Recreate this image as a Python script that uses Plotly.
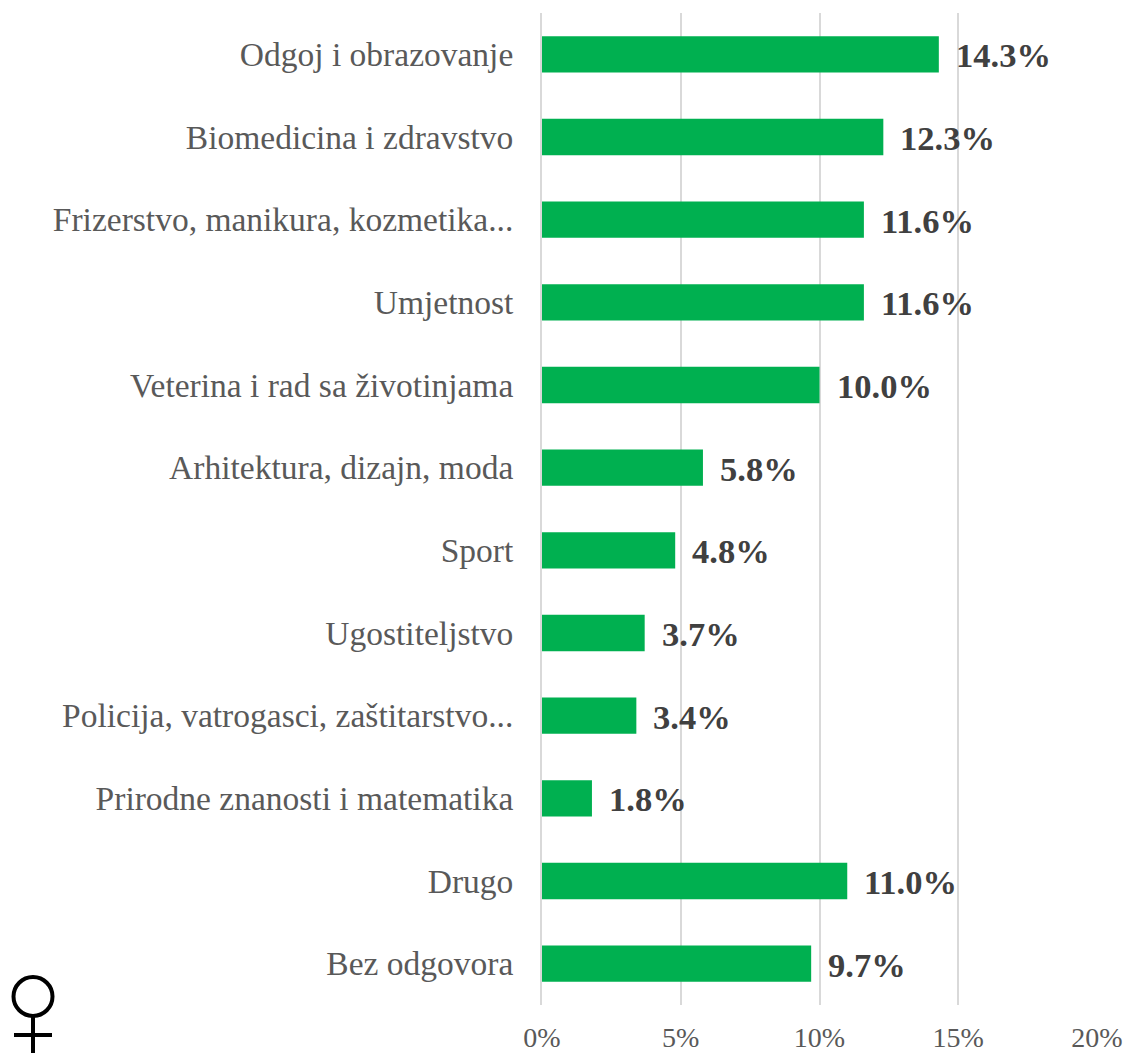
import plotly.graph_objects as go

categories = ["Odgoj i obrazovanje", "Biomedicina i zdravstvo", "Frizerstvo, manikura, kozmetika...", "Umjetnost",
              "Veterina i rad sa životinjama", "Arhitektura, dizajn, moda", "Sport", "Ugostiteljstvo",
              "Policija, vatrogasci, zaštitarstvo...", "Prirodne znanosti i matematika", "Drugo", "Bez odgovora"]
values = [14.3, 12.3, 11.6, 11.6, 10.0, 5.8, 4.8, 3.7, 3.4, 1.8, 11.0, 9.7]
labels = [f"{v:.1f}%" for v in values]
ticks = [0, 5, 10, 15, 20]
tick_labels = ["0%", "5%", "10%", "15%", "20%"]
SERIF = "'Liberation Serif', serif"
W, H = 1125, 1053
L, R, T, B = 542, 28, 13, 48

fig = go.Figure(go.Bar(
    y=categories, x=values, orientation="h", width=0.44,
    marker=dict(color="#00B050", line=dict(width=0)),
))
annotations = [dict(x=v, y=c, text=f"<b>{t}</b>", xref="x", yref="y", xanchor="left", yanchor="middle",
                    xshift=15, yshift=-1, showarrow=False, font=dict(family=SERIF, size=34.5, color="#404040"))
               for c, v, t in zip(categories, values, labels)]
px = lambda x: (x - L) / (W - L - R)
py = lambda y: 1 - (y - T) / (H - T - B)
symbol = dict(type="line", xref="paper", yref="paper", line=dict(color="black", width=4))
shapes = [
    dict(type="circle", xref="paper", yref="paper", x0=px(13.5), x1=px(52.5), y0=py(977), y1=py(1016),
         line=dict(color="black", width=4), fillcolor="rgba(0,0,0,0)"),
    dict(symbol, x0=px(33), x1=px(33), y0=py(1016), y1=py(1053)),
    dict(symbol, x0=px(14), x1=px(52), y0=py(1035), y1=py(1035)),
]
fig.update_layout(
    width=W, height=H, showlegend=False,
    paper_bgcolor="white", plot_bgcolor="white",
    margin=dict(l=L, r=R, t=T, b=B, autoexpand=False),
    xaxis=dict(range=[0, 20], tickvals=ticks, ticktext=tick_labels, showgrid=True, gridcolor="#D9D9D9", gridwidth=2,
               zeroline=False, showline=False, ticks="outside", ticklen=7, tickcolor="rgba(0,0,0,0)", automargin=False,
               tickfont=dict(family=SERIF, size=28, color="#595959")),
    yaxis=dict(autorange="reversed", showgrid=False, zeroline=False, showline=True, linecolor="#D9D9D9", linewidth=2,
               ticks="outside", ticklen=20, tickcolor="rgba(0,0,0,0)", automargin=False,
               tickfont=dict(family=SERIF, size=33.5, color="#595959")),
    annotations=annotations, shapes=shapes,
)
fig.write_html("out.html", config={"displayModeBar": False}, post_script="document.body.style.margin='0';")
